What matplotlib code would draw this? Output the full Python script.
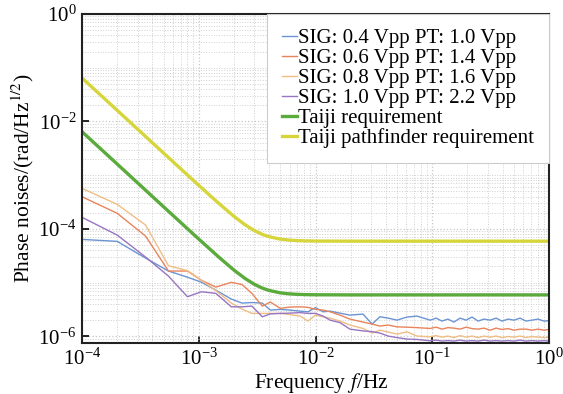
import matplotlib
matplotlib.use("Agg")
import matplotlib.pyplot as plt
from matplotlib.ticker import LogLocator, NullFormatter

plt.rcParams['font.family'] = ['Liberation Serif', 'DejaVu Serif']
plt.rcParams['mathtext.fontset'] = 'stix'

freq = [1e-4, 2e-4, 3.5e-4, 5.5e-4, 8e-4, 1.05e-3, 1.4e-3, 1.9e-3, 2.35e-3, 2.85e-3,
        3.5e-3, 4.1e-3, 5e-3, 6e-3, 7.4e-3, 8.6e-3, 1.0e-2, 1.16e-2, 1.33e-2, 1.62e-2,
        1.97e-2, 2.55e-2, 3.05e-2, 3.56e-2, 4.18e-2, 4.99e-2, 6.08e-2, 7.4e-2, 9.58e-2,
        0.108, 0.121, 0.136, 0.153, 0.173, 0.195, 0.219, 0.247, 0.277, 0.313,
        0.352, 0.395, 0.446, 0.501, 0.565, 0.635, 0.714, 0.805, 0.906, 1.0]

sig04 = [6.37e-5, 5.85e-5, 2.86e-5, 1.64e-5, 1.26e-5, 1.02e-5, 7.24e-6, 4.93e-6, 4.15e-6, 4.25e-6,
         4.15e-6, 3.08e-6, 3.17e-6, 3.08e-6, 2.94e-6, 2.86e-6, 3.42e-6, 2.86e-6, 2.94e-6, 2.70e-6,
         2.48e-6, 2.59e-6, 1.69e-6, 2.31e-6, 2.18e-6, 2.00e-6, 2.28e-6, 2.38e-6, 2.00e-6,
         2.18e-6, 1.92e-6, 2.09e-6, 1.84e-6, 2.18e-6, 2.00e-6, 2.28e-6, 1.92e-6, 2.09e-6, 2.00e-6,
         2.18e-6, 1.92e-6, 2.09e-6, 2.00e-6, 2.18e-6, 1.92e-6, 2.00e-6, 2.09e-6, 1.92e-6, 1.95e-6]

sig06 = [3.96e-4, 1.95e-4, 7.35e-5, 1.64e-5, 1.64e-5, 1.11e-5, 8.24e-6, 1.01e-5, 9.18e-6, 6.30e-6,
         3.65e-6, 4.34e-6, 3.31e-6, 3.50e-6, 3.54e-6, 3.46e-6, 3.17e-6, 3.08e-6, 2.86e-6, 2.48e-6,
         2.09e-6, 1.84e-6, 1.69e-6, 1.55e-6, 1.62e-6, 1.50e-6, 1.48e-6, 1.45e-6, 1.40e-6,
         1.48e-6, 1.36e-6, 1.45e-6, 1.42e-6, 1.36e-6, 1.48e-6, 1.39e-6, 1.36e-6, 1.42e-6, 1.30e-6,
         1.42e-6, 1.34e-6, 1.39e-6, 1.30e-6, 1.36e-6, 1.36e-6, 1.30e-6, 1.36e-6, 1.30e-6, 1.34e-6]

sig08 = [5.68e-4, 2.86e-4, 1.18e-4, 2.06e-5, 1.67e-5, 1.11e-5, 7.10e-6, 4.15e-6, 3.21e-6, 2.67e-6,
         2.67e-6, 2.67e-6, 2.67e-6, 2.54e-6, 2.38e-6, 1.92e-6, 2.48e-6, 2.31e-6, 2.18e-6, 1.92e-6,
         1.62e-6, 1.40e-6, 1.15e-6, 1.30e-6, 1.20e-6, 1.10e-6, 1.21e-6, 1.01e-6, 0.98e-6,
         1.03e-6, 0.966e-6, 1.01e-6, 0.946e-6, 1.03e-6, 0.966e-6, 1.01e-6, 0.946e-6, 1.01e-6, 0.966e-6,
         1.01e-6, 0.946e-6, 0.99e-6, 0.966e-6, 1.01e-6, 0.946e-6, 0.99e-6, 0.966e-6, 0.946e-6, 0.966e-6]

sig10 = [1.64e-4, 7.67e-5, 2.99e-5, 1.32e-5, 5.45e-6, 6.75e-6, 6.30e-6, 3.54e-6, 3.54e-6, 3.65e-6,
         2.31e-6, 2.61e-6, 2.67e-6, 2.70e-6, 2.76e-6, 2.67e-6, 2.67e-6, 2.38e-6, 2.00e-6, 1.80e-6,
         1.36e-6, 1.26e-6, 1.22e-6, 1.15e-6, 1.01e-6, 0.946e-6, 0.887e-6, 0.875e-6, 0.824e-6,
         0.849e-6, 0.814e-6, 0.832e-6, 0.814e-6, 0.849e-6, 0.814e-6, 0.832e-6, 0.814e-6, 0.849e-6, 0.814e-6,
         0.832e-6, 0.814e-6, 0.832e-6, 0.814e-6, 0.849e-6, 0.814e-6, 0.832e-6, 0.814e-6, 0.832e-6, 0.814e-6]

req_freq = [1e-4, 2e-4, 5e-4, 1e-3, 1.5e-3, 2e-3, 2.5e-3, 3e-3, 3.5e-3, 4e-3, 5e-3, 6e-3,
            7e-3, 8e-3, 1e-2, 2e-2, 1.0]
taiji_req = [6.43e-3, 1.61e-3, 2.57e-4, 6.45e-5, 2.92e-5, 1.71e-5, 1.185e-5, 9.26e-6, 7.89e-6,
             7.14e-6, 6.44e-6, 6.16e-6, 6.04e-6, 5.98e-6, 5.93e-6, 5.9e-6, 5.9e-6]
pathfinder_req = [6.43e-2, 1.61e-2, 2.57e-3, 6.45e-4, 2.92e-4, 1.71e-4, 1.185e-4, 9.26e-5, 7.89e-5,
                  7.14e-5, 6.44e-5, 6.16e-5, 6.04e-5, 5.98e-5, 5.93e-5, 5.9e-5, 5.9e-5]

labels = ["SIG: 0.4 Vpp PT: 1.0 Vpp", "SIG: 0.6 Vpp PT: 1.4 Vpp",
          "SIG: 0.8 Vpp PT: 1.6 Vpp", "SIG: 1.0 Vpp PT: 2.2 Vpp",
          "Taiji requirement", "Taiji pathfinder requirement"]
colors = ["#6b94d2", "#e8845c", "#f0bd85", "#9775c2", "#5aaa3c", "#d6d63c"]

fig = plt.figure(figsize=(5.63, 3.94), dpi=100)
ax = fig.add_axes([0.1457, 0.1294, 0.8295, 0.8351])

for series, lab, c in zip([sig04, sig06, sig08, sig10], labels[:4], colors[:4]):
    ax.plot(freq, series, color=c, lw=1.0, label=lab)
ax.plot(req_freq, taiji_req, color=colors[4], lw=2.4, label=labels[4])
ax.plot(req_freq, pathfinder_req, color=colors[5], lw=2.4, label=labels[5])

ax.set_xscale('log')
ax.set_yscale('log')
ax.set_xlim(1e-4, 1e0)
ax.set_ylim(7.5e-7, 1e0)
ax.set_xticks([1e-4, 1e-3, 1e-2, 1e-1, 1e0])
ax.set_yticks([1e-6, 1e-4, 1e-2, 1e0])
ax.xaxis.set_minor_locator(LogLocator(base=10, subs=range(2, 10), numticks=20))
ax.yaxis.set_minor_locator(LogLocator(base=10, subs=range(1, 10), numticks=20))
ax.xaxis.set_minor_formatter(NullFormatter())
ax.yaxis.set_minor_formatter(NullFormatter())
ax.tick_params(which='major', direction='in', length=5, width=1.2, labelsize=15, pad=4)
ax.tick_params(which='minor', length=0)

ax.grid(which='major', color='#c8c8c8', ls=':', lw=0.9)
ax.grid(which='minor', color='#d0d0d0', ls=':', lw=0.7)
ax.set_axisbelow(True)

for sp in ax.spines.values():
    sp.set_linewidth(1.5)
    sp.set_color('#222222')

ax.set_xlabel("Frequency $f$/Hz", fontsize=15.5)
ax.xaxis.set_label_coords(0.512, -0.085)
ax.set_ylabel("Phase noises/(rad/Hz$^{1/2}$)", fontsize=15.5)
ax.yaxis.set_label_coords(-0.098, 0.5)

leg = ax.legend(loc='upper right', fontsize=15, handlelength=0.75, handletextpad=0.05,
                labelspacing=0.02, borderpad=0.7, borderaxespad=0.0, fancybox=False,
                framealpha=1.0, edgecolor='#cccccc')
leg.get_frame().set_linewidth(0.8)

fig.savefig("out.png", dpi=100)
